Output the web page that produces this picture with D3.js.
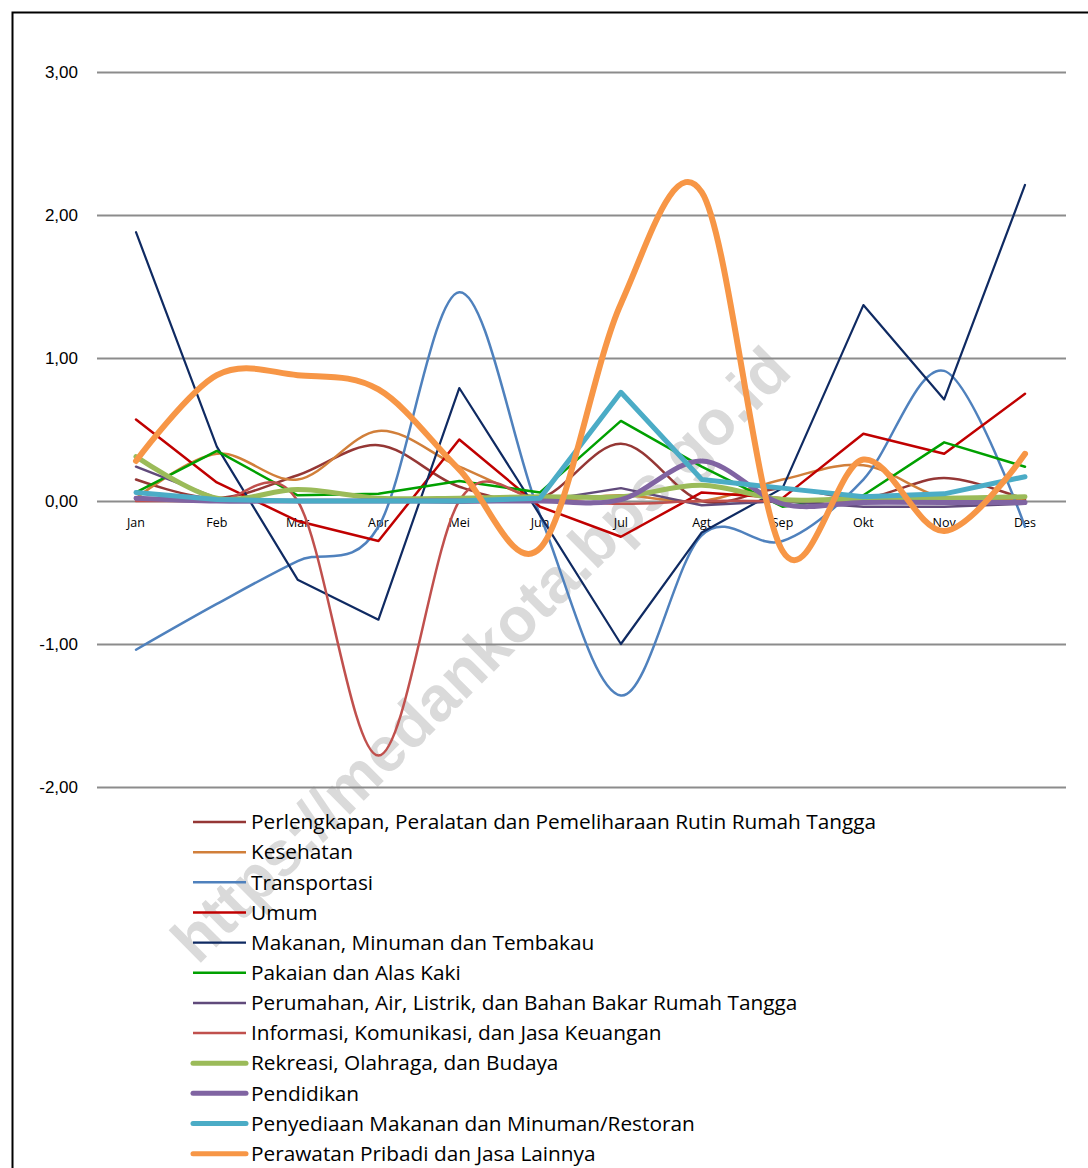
<!DOCTYPE html>
<html>
<head>
<meta charset="utf-8">
<script src="https://cdn.jsdelivr.net/npm/d3@7"></script>
<style>
  html, body { margin: 0; padding: 0; background: #fff; }
</style>
</head>
<body>
<div id="chart"></div>
<script>
// ── Data ────────────────────────────────────────────────────
const months = ['Jan','Feb','Mar','Apr','Mei','Jun','Jul','Agt','Sep','Okt','Nov','Des'];
const yTicks = [-2, -1, 0, 1, 2, 3];

const perlengkapan = [0.15, 0.02, 0.18, 0.39, 0.10, 0.02, 0.40, 0.00, 0.09, 0.02, 0.16, 0.01];
const kesehatan    = [0.02, 0.33, 0.15, 0.49, 0.24, 0.02, 0.04, 0.00, 0.15, 0.25, 0.02, 0.02];
const transportasi = [-1.04, -0.72, -0.42, -0.18, 1.46, -0.10, -1.36, -0.24, -0.28, 0.15, 0.91, -0.18];
const umum         = [0.57, 0.13, -0.14, -0.28, 0.43, -0.04, -0.25, 0.06, 0.02, 0.47, 0.33, 0.75];
const makanan      = [1.88, 0.38, -0.55, -0.83, 0.79, -0.10, -1.00, -0.22, 0.09, 1.37, 0.71, 2.21];
const pakaian      = [0.06, 0.35, 0.04, 0.05, 0.14, 0.06, 0.56, 0.24, -0.04, 0.04, 0.41, 0.24];
const perumahan    = [0.24, 0.02, 0.00, 0.00, -0.01, 0.00, 0.09, -0.03, 0.00, -0.04, -0.04, -0.02];
const informasi    = [0.00, 0.00, 0.00, -1.78, 0.00, 0.01, -0.02, 0.00, 0.00, 0.00, 0.00, 0.00];
const rekreasi     = [0.31, 0.02, 0.08, 0.02, 0.02, 0.03, 0.03, 0.11, 0.01, 0.02, 0.02, 0.03];
const pendidikan   = [0.02, 0.00, 0.00, 0.00, 0.00, 0.00, 0.01, 0.28, -0.02, -0.01, -0.01, -0.01];
const penyediaan   = [0.06, 0.01, 0.00, 0.00, 0.00, 0.02, 0.76, 0.15, 0.09, 0.03, 0.05, 0.17];
const perawatan    = [0.28, 0.88, 0.88, 0.78, 0.22, -0.33, 1.38, 2.16, -0.35, 0.29, -0.21, 0.33];

const series = [
  { name: 'Perlengkapan, Peralatan dan Pemeliharaan Rutin Rumah Tangga', values: perlengkapan, color: '#953735', width: 2.5, smooth: true },
  { name: 'Kesehatan', values: kesehatan, color: '#d17f3a', width: 2.5, smooth: true },
  { name: 'Transportasi', values: transportasi, color: '#4f81bd', width: 2.5, smooth: true },
  { name: 'Umum', values: umum, color: '#c00000', width: 2.5, smooth: false },
  { name: 'Makanan, Minuman dan Tembakau', values: makanan, color: '#0f2a62', width: 2.2, smooth: false },
  { name: 'Pakaian dan Alas Kaki', values: pakaian, color: '#00a000', width: 2.5, smooth: false },
  { name: 'Perumahan, Air, Listrik, dan Bahan Bakar Rumah Tangga', values: perumahan, color: '#604a7b', width: 2.5, smooth: false },
  { name: 'Informasi, Komunikasi, dan Jasa Keuangan', values: informasi, color: '#c0504d', width: 2.5, smooth: true },
  { name: 'Rekreasi, Olahraga, dan Budaya', values: rekreasi, color: '#9bbb59', width: 5, smooth: true },
  { name: 'Pendidikan', values: pendidikan, color: '#8064a2', width: 5, smooth: true },
  { name: 'Penyediaan Makanan dan Minuman/Restoran', values: penyediaan, color: '#4bacc6', width: 5, smooth: false },
  { name: 'Perawatan Pribadi dan Jasa Lainnya', values: perawatan, color: '#f79646', width: 6, smooth: true }
];

// ── Setup ───────────────────────────────────────────────────
const width = 1088, height = 1168;

const svg = d3.select('#chart')
  .append('svg')
  .attr('width', width)
  .attr('height', height);

// chart border (runs off the right / bottom edge)
svg.append('rect')
  .attr('x', 12.5).attr('y', 12.5)
  .attr('width', width).attr('height', height)
  .attr('fill', '#fff')
  .attr('stroke', '#000')
  .attr('stroke-width', 2);

// ── Watermark ───────────────────────────────────────────────
svg.append('text')
  .attr('transform', 'translate(484,658) rotate(-44.8)')
  .attr('text-anchor', 'middle')
  .attr('dominant-baseline', 'middle')
  .attr('fill', '#dadada')
  .attr('font-family', "'Liberation Sans', Arial, sans-serif")
  .attr('font-weight', 'bold')
  .attr('font-size', '63px')
  .text('https://medankota.bps.go.id');

// ── Scales ──────────────────────────────────────────────────
const x = d3.scalePoint()
  .domain(months)
  .range([136, 1025]);

const y = d3.scaleLinear()
  .domain([-2, 3])
  .range([787, 72]);

// ── Gridlines ───────────────────────────────────────────────
svg.append('g')
  .attr('transform', 'translate(97,0)')
  .call(d3.axisLeft(y)
    .tickValues(yTicks)
    .tickSize(-969)
    .tickFormat(''))
  .call(g => g.select('.domain').remove())
  .selectAll('line')
  .attr('stroke', '#8c8c8c')
  .attr('stroke-width', 2);

// y labels
svg.append('g')
  .selectAll('text')
  .data(yTicks)
  .join('text')
  .attr('x', 78)
  .attr('y', d => y(d))
  .attr('dy', '0.36em')
  .attr('text-anchor', 'end')
  .attr('font-family', "'Liberation Sans', Arial, sans-serif")
  .attr('font-size', '17px')
  .attr('fill', '#000')
  .text(d => d.toFixed(2).replace('.', ','));

// x labels (sit just below the zero line)
svg.append('g')
  .selectAll('text')
  .data(months)
  .join('text')
  .attr('x', d => x(d))
  .attr('y', y(0) + 26)
  .attr('text-anchor', 'middle')
  .attr('font-family', "'Open Sans', sans-serif")
  .attr('font-size', '12.5px')
  .attr('fill', '#000')
  .text(d => d);

// ── Lines ───────────────────────────────────────────────────
series.forEach(s => {
  const line = d3.line()
    .x((d, i) => x(months[i]))
    .y(d => y(d))
    .curve(s.smooth ? d3.curveCardinal.tension(0) : d3.curveLinear);

  svg.append('path')
    .datum(s.values)
    .attr('fill', 'none')
    .attr('stroke', s.color)
    .attr('stroke-width', s.width)
    .attr('stroke-linejoin', 'round')
    .attr('stroke-linecap', 'round')
    .attr('d', line);
});

// ── Legend ──────────────────────────────────────────────────
const legend = svg.append('g')
  .attr('transform', 'translate(193,822)');

const rowH = 30.15;

legend.selectAll('line')
  .data(series)
  .join('line')
  .attr('x1', 0).attr('x2', 53)
  .attr('y1', (d, i) => i * rowH).attr('y2', (d, i) => i * rowH)
  .attr('stroke', d => d.color)
  .attr('stroke-width', d => Math.min(d.width, 5))
  .attr('stroke-linecap', d => d.width > 3 ? 'round' : 'butt');

legend.selectAll('text')
  .data(series)
  .join('text')
  .attr('x', 58)
  .attr('y', (d, i) => i * rowH)
  .attr('dy', '0.35em')
  .attr('font-family', "'Open Sans', sans-serif")
  .attr('font-size', '20.8px')
  .attr('fill', '#000')
  .text(d => d.name);
</script>
</body>
</html>
